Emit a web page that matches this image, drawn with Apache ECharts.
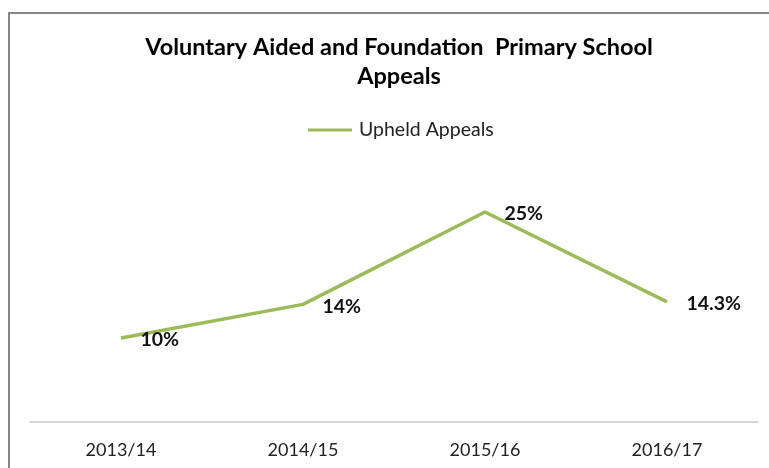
<!DOCTYPE html>
<html><head><meta charset="utf-8">
<script src="https://cdn.jsdelivr.net/npm/echarts@6/dist/echarts.min.js"></script>
<style>html,body{margin:0;padding:0;background:#fff}#c{width:769px;height:468px}</style>
</head><body><div id="c"></div>
<script>
var categories = ['2013/14', '2014/15', '2015/16', '2016/17'];
var upheld = [10, 14, 25, 14.3];
var labels = ['10%', '14%', '25%', '14.3%'];
var seriesName = 'Upheld Appeals';
var titleText = 'Voluntary Aided and Foundation  Primary School\nAppeals';

var font = 'Lato, "Open Sans", sans-serif';
var green = '#9BBB59';
var chart = echarts.init(document.getElementById('c'));
chart.setOption({
  animation: false,
  graphic: [{
    type: 'rect', silent: true,
    shape: {x: 9, y: 13, width: 800, height: 500},
    style: {fill: 'none', stroke: '#868686', lineWidth: 2}
  }],
  title: {
    text: titleText, left: 394, top: 28,
    textAlign: 'center',
    textStyle: {fontFamily: font, fontWeight: 'bold', fontSize: 23.5, color: '#000', lineHeight: 29}
  },
  legend: {
    top: 115, left: 303,
    itemWidth: 44, itemHeight: 3, itemGap: 0,
    textStyle: {fontFamily: font, fontSize: 19.5, color: '#222', padding: [0,0,0,2]},
    data: [{name: seriesName, icon: 'rect', itemStyle: {color: green, opacity: 1}}]
  },
  grid: {left: 30, right: 11, top: 170, bottom: 46},
  xAxis: {
    type: 'category', data: categories, boundaryGap: true,
    axisLine: {lineStyle: {color: '#c8c8c8', width: 1.5}},
    axisTick: {show: false},
    axisLabel: {fontFamily: font, fontSize: 18, color: '#222', margin: 19}
  },
  yAxis: {type: 'value', min: 0, max: 30, show: false, splitLine: {show: false}},
  series: [{
    name: seriesName, type: 'line', data: upheld,
    showSymbol: true, symbol: 'circle', symbolSize: 1,
    lineStyle: {color: green, width: 3.5},
    itemStyle: {color: 'rgba(0,0,0,0)'},
    label: {
      show: true, position: 'right', distance: 19, offset: [0, 2],
      fontFamily: font, fontWeight: 'bold', fontSize: 19.5, color: '#111',
      formatter: function (p) { return labels[p.dataIndex]; }
    }
  }]
});
</script></body></html>
